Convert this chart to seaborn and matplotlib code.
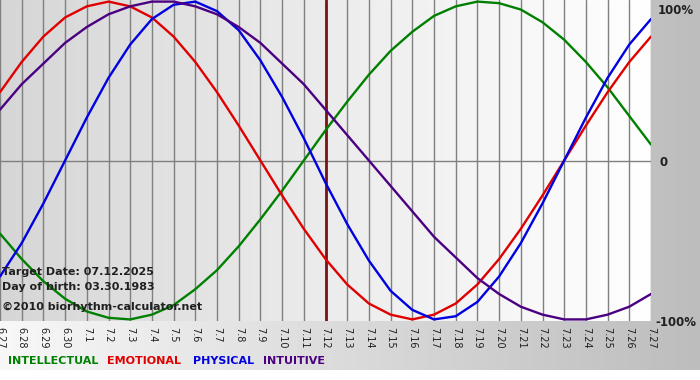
import numpy as np
import pandas as pd
import matplotlib
matplotlib.use("Agg")
import matplotlib.pyplot as plt
import seaborn as sns
from matplotlib.colors import LinearSegmentedColormap

# day labels (m.d) shown under the chart
DAYS = ["6.27", "6.28", "6.29", "6.30"] + [f"7.{d}" for d in range(1, 28)]

# values in percent, one per day
PHYSICAL = [-73, -52, -27, 0, 27, 52, 73, 89, 98, 100, 94, 82, 63, 40, 14, -14,
            -40, -63, -82, -94, -100, -98, -89, -73, -52, -27, 0, 27, 52, 73, 89]
EMOTIONAL = [43, 62, 78, 90, 97, 100, 97, 90, 78, 62, 43, 22, 0, -22, -43, -62,
             -78, -90, -97, -100, -97, -90, -78, -62, -43, -22, 0, 22, 43, 62, 78]
INTELLECTUAL = [-46, -62, -76, -87, -95, -99, -100, -97, -91, -81, -69, -54, -37, -19, 0, 19,
                37, 54, 69, 81, 91, 97, 100, 99, 95, 87, 76, 62, 46, 28, 10]
INTUITIVE = [32, 48, 61, 74, 84, 92, 97, 100, 100, 97, 92, 84, 74, 61, 48, 32,
             16, 0, -16, -32, -48, -61, -74, -84, -92, -97, -100, -100, -97, -92, -84]

TARGET = "7.12"
COLORS = {"INTELLECTUAL": "#008000", "EMOTIONAL": "#e00000",
          "PHYSICAL": "#0000e0", "INTUITIVE": "#4b0082"}

rows = []
for name, vals in [("INTELLECTUAL", INTELLECTUAL), ("EMOTIONAL", EMOTIONAL),
                   ("PHYSICAL", PHYSICAL), ("INTUITIVE", INTUITIVE)]:
    for i, v in enumerate(vals):
        rows.append({"day": i, "value": v, "series": name})
df = pd.DataFrame(rows)

sns.set_style("white")
plt.rcParams['font.family'] = ['DejaVu Sans']

fig = plt.figure(figsize=(7, 3.8), dpi=100)

# figure background: grey gradient band, white strip at the very bottom
bg = fig.add_axes([0, 0, 1, 1], zorder=0)
bg.axis("off")
grad = np.tile(np.linspace(0, 1, 256), (2, 1))
band = LinearSegmentedColormap.from_list("band", ["#f8f8f8", "#bdbdbd"])
bg.imshow(grad, cmap=band, aspect="auto", extent=[0, 1, 10 / 380, 1])
bg.set_xlim(0, 1)
bg.set_ylim(0, 1)

ax = fig.add_axes([0, 1 - 321 / 380, 651 / 700, 321 / 380], zorder=1)
inner = LinearSegmentedColormap.from_list("inner", ["#d6d6d6", "#ececec", "#ffffff"])
ax.imshow(grad, cmap=inner, aspect="auto", extent=[0, len(DAYS) - 1, -101, 101], zorder=0)

for i in range(len(DAYS)):
    ax.axvline(i, color="#808080", lw=1, zorder=1)
ax.axhline(0, color="#808080", lw=1, zorder=1)
ax.axvline(DAYS.index(TARGET), color="#7a1414", lw=2, zorder=2)

sns.lineplot(data=df, x="day", y="value", hue="series", palette=COLORS,
             linewidth=1.7, legend=False, ax=ax, zorder=3)

ax.set_xlim(0, len(DAYS) - 1)
ax.set_ylim(-101, 101)
ax.set_xticks(range(len(DAYS)))
ax.set_xticklabels(DAYS, rotation=-90, fontsize=7, color="#202020")
ax.tick_params(axis="x", length=3, color="#808080", pad=1)
ax.set_yticks([])
ax.set_xlabel("")
ax.set_ylabel("")
for s in ax.spines.values():
    s.set_visible(False)

# labels on the right margin
fig.text(658 / 700, 1 - 10 / 380, "100%", fontsize=8.5, fontweight="bold", va="center", color="#202020")
fig.text(660 / 700, 1 - 162 / 380, "0", fontsize=8.5, fontweight="bold", va="center", color="#202020")
fig.text(655 / 700, 1 - 322 / 380, "-100%", fontsize=8.5, fontweight="bold", va="center", color="#202020")

# info texts in the chart
fig.text(2 / 700, 1 - 272 / 380, "Target Date: 07.12.2025", fontsize=8, fontweight="bold",
         va="center", color="#202020", zorder=5)
fig.text(2 / 700, 1 - 287 / 380, "Day of birth: 03.30.1983", fontsize=8, fontweight="bold",
         va="center", color="#202020", zorder=5)
fig.text(2 / 700, 1 - 307 / 380, "©2010 biorhythm-calculator.net", fontsize=8, fontweight="bold",
         va="center", color="#202020", zorder=5)

# legend line
for x, name in [(8, "INTELLECTUAL"), (107, "EMOTIONAL"), (193, "PHYSICAL"), (263, "INTUITIVE")]:
    fig.text(x / 700, 1 - 361 / 380, name, fontsize=8, fontweight="bold",
             va="center", color=COLORS[name], zorder=5)

fig.savefig("out.png", dpi=100)
